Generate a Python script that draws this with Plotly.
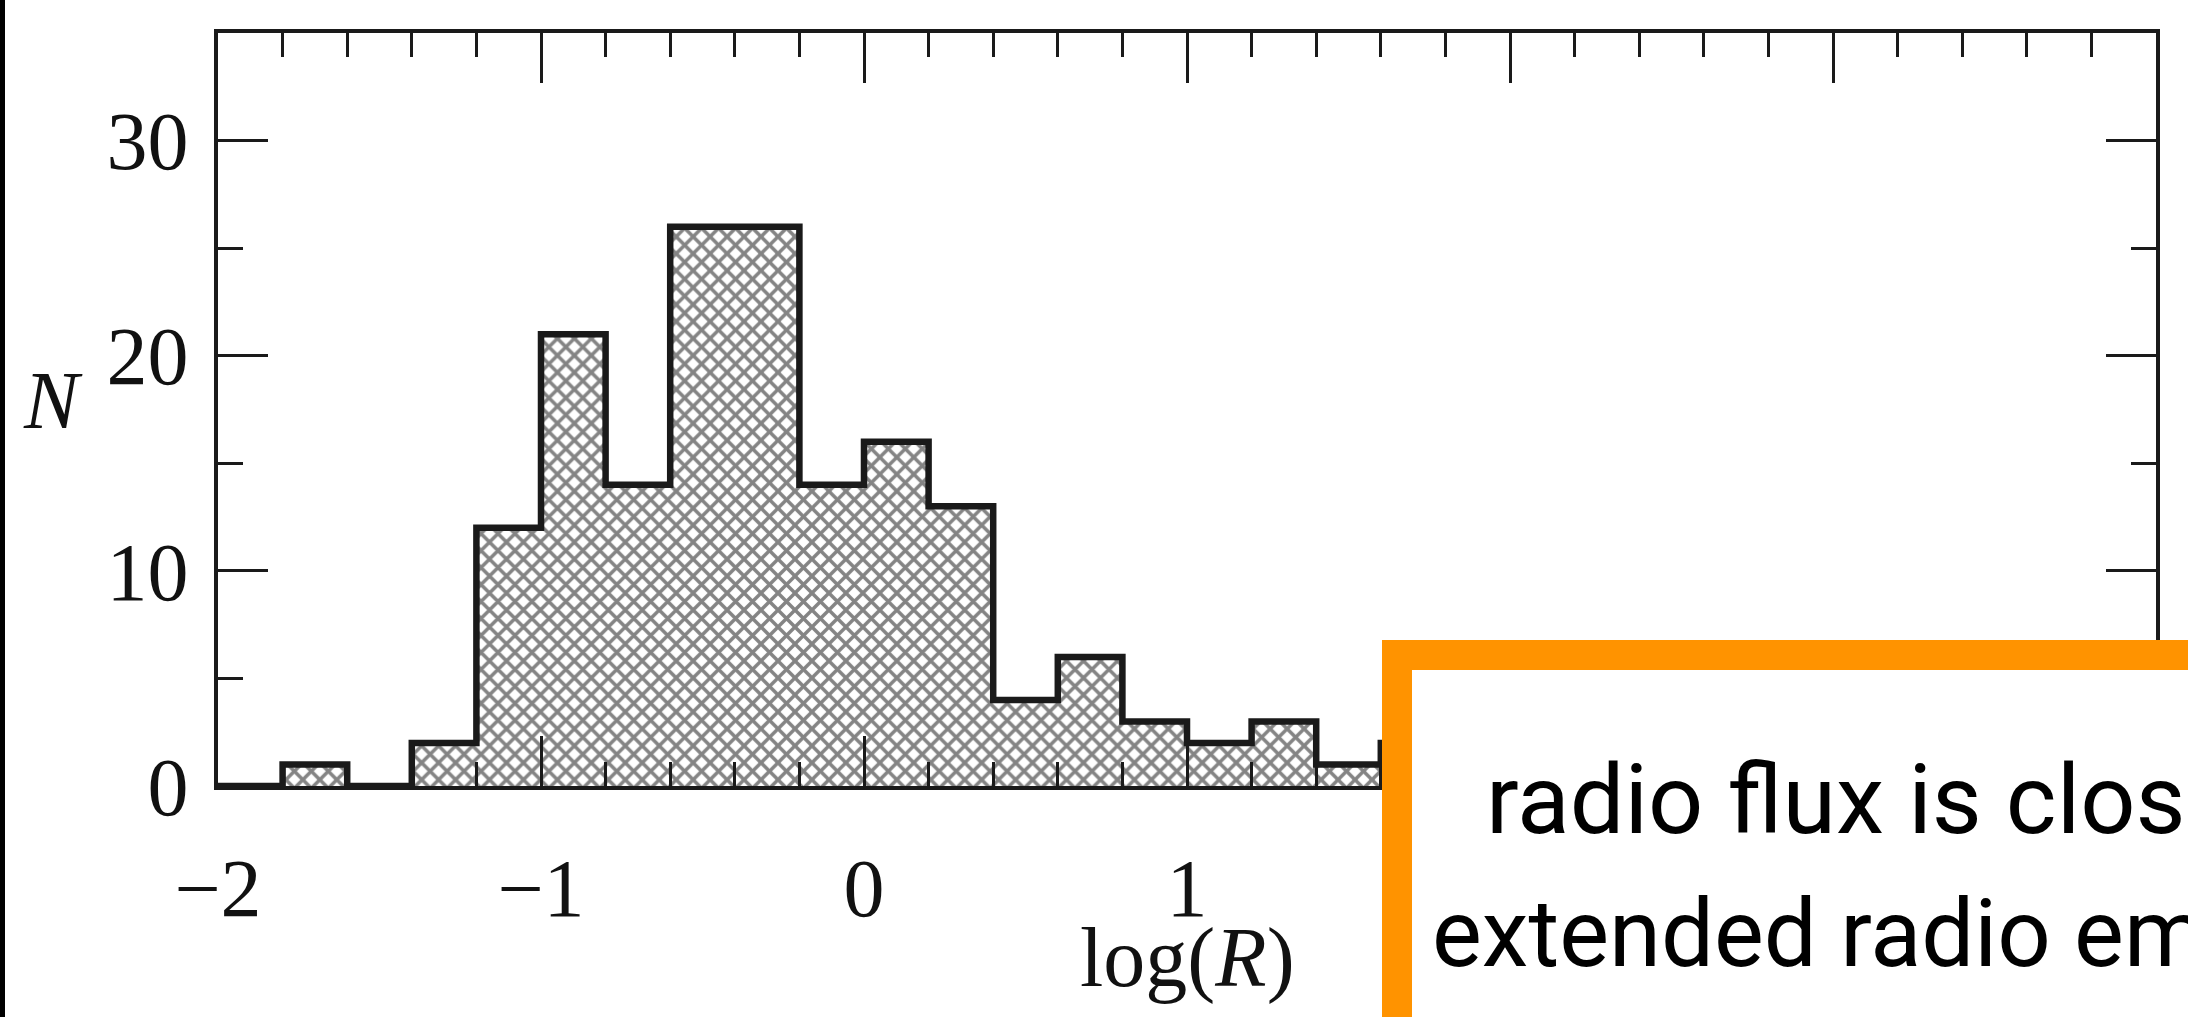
import plotly.graph_objects as go

# ---- data ----
bin_left = [-2.0, -1.8, -1.6, -1.4, -1.2, -1.0, -0.8, -0.6, -0.4, -0.2,
            0.0, 0.2, 0.4, 0.6, 0.8, 1.0, 1.2, 1.4, 1.6]
counts = [0, 1, 0, 2, 12, 21, 14, 26, 26, 14, 16, 13, 4, 6, 3, 2, 3, 1, 2]
bin_width = 0.2

x_tickvals = [-2, -1, 0, 1, 2, 3, 4]
x_ticktext = ["\u22122", "\u22121", "0", "1", "", "", ""]  # 2..4 hidden by the box
y_tickvals = [0, 10, 20, 30]
y_ticktext = ["0", "10", "20", "30"]

caption_lines = ["radio flux is close", "extended radio emission"]

# ---- geometry of the page ----
W, H = 2188, 1017
L, R, T, B = 218, 2156, 33, 786
pw, ph = R - L, B - T


def px(xp):
    return (xp - L) / pw


def py(yp):
    return (B - yp) / ph


centers = [b + bin_width / 2 for b in bin_left]
edges_x = bin_left + [bin_left[-1] + bin_width]
edges_y = counts + [counts[-1]]

INK = "#1a1a1a"
serif = "Liberation Serif"
sans = "Roboto"

fig = go.Figure()
fig.add_trace(go.Bar(
    x=centers, y=counts, width=bin_width,
    marker=dict(color="white", line=dict(width=0),
                pattern=dict(shape="x", fgcolor="#0a0a0a", bgcolor="white",
                             size=12, solidity=0.5, fillmode="overlay")),
    showlegend=False, hoverinfo="skip",
))
fig.add_trace(go.Scatter(
    x=edges_x, y=edges_y, mode="lines", line_shape="hv",
    line=dict(color=INK, width=6.5), showlegend=False, hoverinfo="skip",
))

axis_common = dict(
    showgrid=False, zeroline=False, showline=True, linecolor=INK, linewidth=4,
    mirror="allticks", ticks="inside", tickcolor=INK, tickwidth=3, ticklen=50,
    tickfont=dict(family=serif, size=82, color="#111"),
)

fig.update_xaxes(
    range=[-2, 4], tickmode="array", tickvals=x_tickvals, ticktext=x_ticktext,
    minor=dict(dtick=0.2, tick0=0, ticks="inside", ticklen=24, tickwidth=3,
               tickcolor=INK, showgrid=False),
    ticklabelstandoff=28,
    **axis_common,
)
fig.update_yaxes(
    range=[0, 35], tickmode="array", tickvals=y_tickvals, ticktext=y_ticktext,
    minor=dict(dtick=5, tick0=0, ticks="inside", ticklen=25, tickwidth=3,
               tickcolor=INK, showgrid=False),
    ticklabelstandoff=9,
    **axis_common,
)

annotations = [
    dict(text="<i>N</i>", x=px(53), y=py(400), xref="paper", yref="paper",
         showarrow=False, xanchor="center", yanchor="middle",
         font=dict(family=serif, size=82, color="#111")),
    dict(text="log(<i>R</i>)", x=px((L + R) / 2), y=py(958), xref="paper",
         yref="paper", showarrow=False, xanchor="center", yanchor="middle",
         font=dict(family=serif, size=84, color="#111")),
    dict(text=caption_lines[0], x=px(1484), y=py(800), xref="paper",
         yref="paper", showarrow=False, xanchor="left", yanchor="middle",
         font=dict(family=sans, size=97, color="black")),
    dict(text=caption_lines[1], x=px(1430), y=py(934), xref="paper",
         yref="paper", showarrow=False, xanchor="left", yanchor="middle",
         font=dict(family=sans, size=94, color="black")),
]

shapes = [
    # orange caption box (extends past the page edge)
    dict(type="rect", xref="paper", yref="paper", layer="above",
         x0=px(1397), x1=px(2400), y0=py(1300), y1=py(655),
         line=dict(color="#FF9300", width=30), fillcolor="white"),
    # thin black strip on the left edge
    dict(type="rect", xref="paper", yref="paper", layer="above",
         x0=px(-10), x1=px(5), y0=py(1100), y1=py(-50),
         line=dict(width=0), fillcolor="black"),
]

fig.update_layout(
    width=W, height=H, autosize=False,
    margin=dict(l=L, r=W - R, t=T, b=H - B, pad=0),
    paper_bgcolor="white", plot_bgcolor="white",
    bargap=0, showlegend=False,
    annotations=annotations, shapes=shapes,
)

fig.write_html("out.html")
